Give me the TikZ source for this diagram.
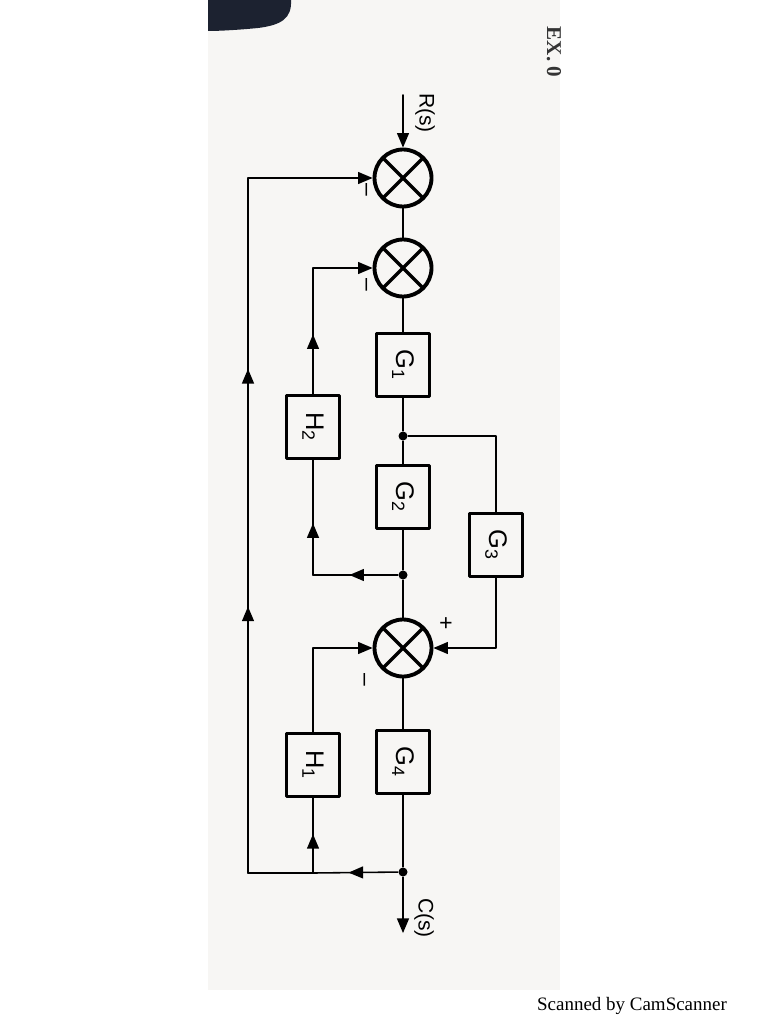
\documentclass[tikz,border=0pt]{standalone}
\usepackage{fontspec}
\usepackage{graphicx}
\setmainfont{Liberation Sans}
\newfontfamily\scanfont{Liberation Serif}
\usetikzlibrary{arrows,decorations.markings}

\definecolor{paperc}{RGB}{247,246,244}
\definecolor{blobc}{RGB}{28,34,48}
\newcommand{\turnlbl}[1]{\rotatebox[origin=c]{-90}{#1}}

\tikzset{
  sumjn/.style={circle,draw,line width=2.2pt,minimum size=1.14cm,inner sep=0pt,
    path picture={\draw[line width=2pt] (path picture bounding box.north west) -- (path picture bounding box.south east)
      (path picture bounding box.north east) -- (path picture bounding box.south west);}},
  blk/.style={draw,line width=2pt,minimum width=1.06cm,minimum height=1.26cm,inner sep=0pt,
    font=\fontsize{14.5}{17}\selectfont},
  jdot/.style={circle,fill,inner sep=0pt,minimum size=0.18cm},
  sgn/.style={inner sep=0pt,font=\fontsize{13}{15}\selectfont},
  sig/.style={inner sep=0pt,font=\fontsize{12}{14}\selectfont},
  midarrow/.style={postaction={decorate,decoration={markings,mark=at position #1 with {\arrow{>}}}}}
}

\begin{document}
\begin{tikzpicture}[x=0.02cm,y=-0.02cm,line cap=round,line join=round,>=triangle 45,line width=0.9pt]
  \useasboundingbox (0,0) rectangle (768,1024);
  % scanned sheet
  \fill[paperc] (208,0) rectangle (560,990);
  \fill[blobc] (208,0) -- (291,0) .. controls (292,18) and (282,25) .. (258,28) .. controls (238,30) and (218,31) .. (208,31) -- cycle;
  \node[inner sep=0pt,text=black!80,font=\scanfont\bfseries\fontsize{12}{14}\selectfont] (exno) at (554,52) {\turnlbl{EX. 0}};
  \node[inner sep=0pt,font=\scanfont\fontsize{10.8}{13}\selectfont] (scan) at (632,1006) {Scanned by CamScanner};

  % forward path
  \coordinate (rin) at (403,95);
  \node[sumjn] (s1) at (403,178) {};
  \node[sumjn] (s2) at (403,268) {};
  \node[blk] (g1) at (403,365) {\turnlbl{G\textsubscript{1}}};
  \node[jdot] (d1) at (403,436) {};
  \node[blk] (g2) at (403,497) {\turnlbl{G\textsubscript{2}}};
  \node[blk] (g3) at (496,545) {\turnlbl{G\textsubscript{3}}};
  \node[jdot] (d2) at (403,575) {};
  \node[sumjn] (s3) at (403,648) {};
  \node[blk] (g4) at (403,762) {\turnlbl{G\textsubscript{4}}};
  \node[jdot] (d3) at (403,872) {};
  \coordinate (cout) at (403,933);

  % feedback blocks
  \node[blk] (h2) at (313,427) {\turnlbl{H\textsubscript{2}}};
  \node[blk] (h1) at (313,765) {\turnlbl{H\textsubscript{1}}};
  \coordinate (c2) at (313,575);
  \coordinate (c4) at (313,873);
  \coordinate (c5) at (248,873);

  % labels and signs
  \node[sig] (rlbl) at (425,113) {\turnlbl{R(s)}};
  \node[sig] (clbl) at (424,918) {\turnlbl{C(s)}};
  \node[sgn] (m1) at (364,190) {\turnlbl{--}};
  \node[sgn] (m2) at (364,285) {\turnlbl{--}};
  \node[sgn] (m3) at (362,680) {\turnlbl{--}};
  \node[sgn] (p3) at (445,623) {\turnlbl{+}};

  \draw[->] (rin) -- (s1);
  \draw (s1) -- (s2);
  \draw (s2) -- (g1);
  \draw (g1) -- (d1);
  \draw (d1) -- (g2);
  \draw (g2) -- (d2);
  \draw (d2) -- (s3);
  \draw (s3) -- (g4);
  \draw (g4) -- (d3);
  \draw[->] (d3) -- (cout);

  \draw (d1) -| (g3);
  \draw[->] (g3) |- (s3);

  \draw[midarrow=0.57] (d2) -- (c2);
  \draw[midarrow=0.45] (c2) -- (h2);
  \draw[->,midarrow=0.32] (h2) |- (s2);

  \draw[midarrow=0.58] (d3) -- (c4);
  \draw[midarrow=0.52] (c4) -- (h1);
  \draw[->] (h1) |- (s3);

  \draw (c4) -- (c5);
  \draw[->,midarrow=0.325,midarrow=0.615] (c5) |- (s1);
\end{tikzpicture}
\end{document}
